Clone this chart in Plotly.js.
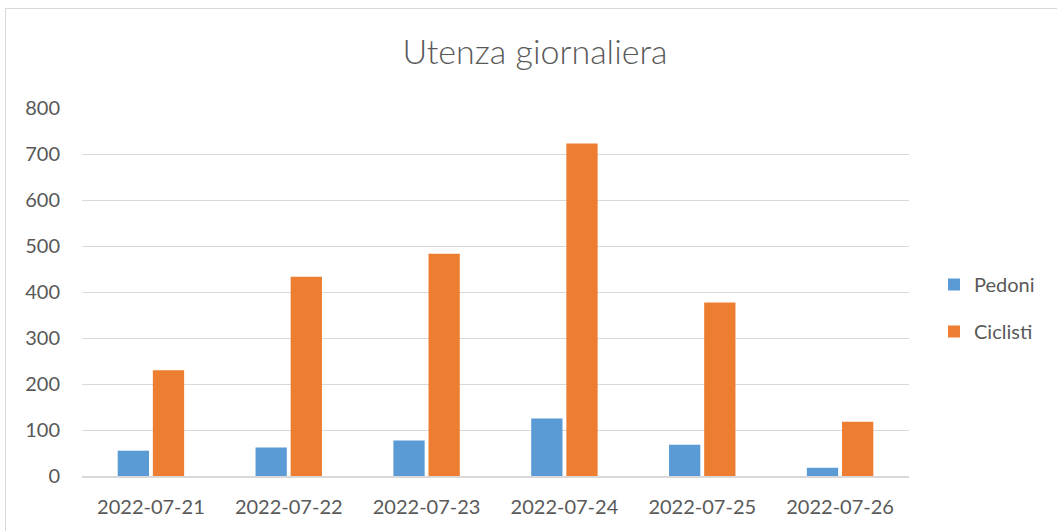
<!DOCTYPE html>
<html>
<head>
<meta charset="utf-8">
<script src="https://cdn.plot.ly/plotly-3.0.1.min.js"></script>
<style>
html,body{margin:0;padding:0;background:#fff;}
#wrap{position:relative;width:1057px;height:531px;overflow:hidden;}
#chart{position:absolute;left:0;top:0;width:1057px;height:531px;}
#frame{position:absolute;left:5px;top:8px;width:1100px;height:600px;border:1px solid #d9d9d9;pointer-events:none;}
</style>
</head>
<body>
<div id="wrap"><div id="chart"></div><div id="frame"></div></div>
<script>
const categories = ["2022-07-21","2022-07-22","2022-07-23","2022-07-24","2022-07-25","2022-07-26"];
const pedoni = [55, 62, 77, 125, 68, 18];
const ciclisti = [230, 433, 483, 723, 377, 118];
const yTicks = [0, 100, 200, 300, 400, 500, 600, 700, 800];

const fontFam = "Lato, 'Open Sans', sans-serif";
const txt = "#595959";

const data = [
  {type:"bar", name:"Pedoni", x:categories, y:pedoni, marker:{color:"#5b9bd5"}, legendgroup:"a", hoverinfo:"y"},
  {type:"bar", name:"Ciclisti", x:categories, y:ciclisti, marker:{color:"#ed7d31"}, legendgroup:"b", hoverinfo:"y"}
];

const layout = {
  width:1057, height:531,
  margin:{l:82, r:148, t:108, b:55},
  paper_bgcolor:"rgba(0,0,0,0)", plot_bgcolor:"rgba(0,0,0,0)",
  font:{family:fontFam, color:txt, size:20},
  title:{text:"Utenza giornaliera", font:{family:fontFam, size:34, color:txt, weight:300},
         x:535/1057, xref:"container", xanchor:"center", y:1-52/531, yref:"container", yanchor:"middle"},
  barmode:"group", bargap:0.49, bargroupgap:0.11,
  xaxis:{type:"category", showgrid:false, zeroline:false, showline:true, linecolor:"#d9d9d9", linewidth:1.5,
         ticks:"", ticklabelstandoff:12, tickfont:{size:20, color:txt}, fixedrange:true},
  yaxis:{range:[0,800], tickvals:yTicks, ticktext:yTicks.map(String), showgrid:true, gridcolor:"#d9d9d9", gridwidth:1,
         zeroline:false, showline:false, ticks:"", ticklabelstandoff:21, tickfont:{size:20, color:txt}, fixedrange:true},
  legend:{x:(934-82)/827, xanchor:"left", y:(476-265)/368, yanchor:"top", font:{size:20, color:txt},
          tracegroupgap:18, bgcolor:"rgba(0,0,0,0)", itemwidth:30},
  showlegend:true
};

Plotly.newPlot("chart", data, layout, {displayModeBar:false, staticPlot:true});
</script>
</body>
</html>
